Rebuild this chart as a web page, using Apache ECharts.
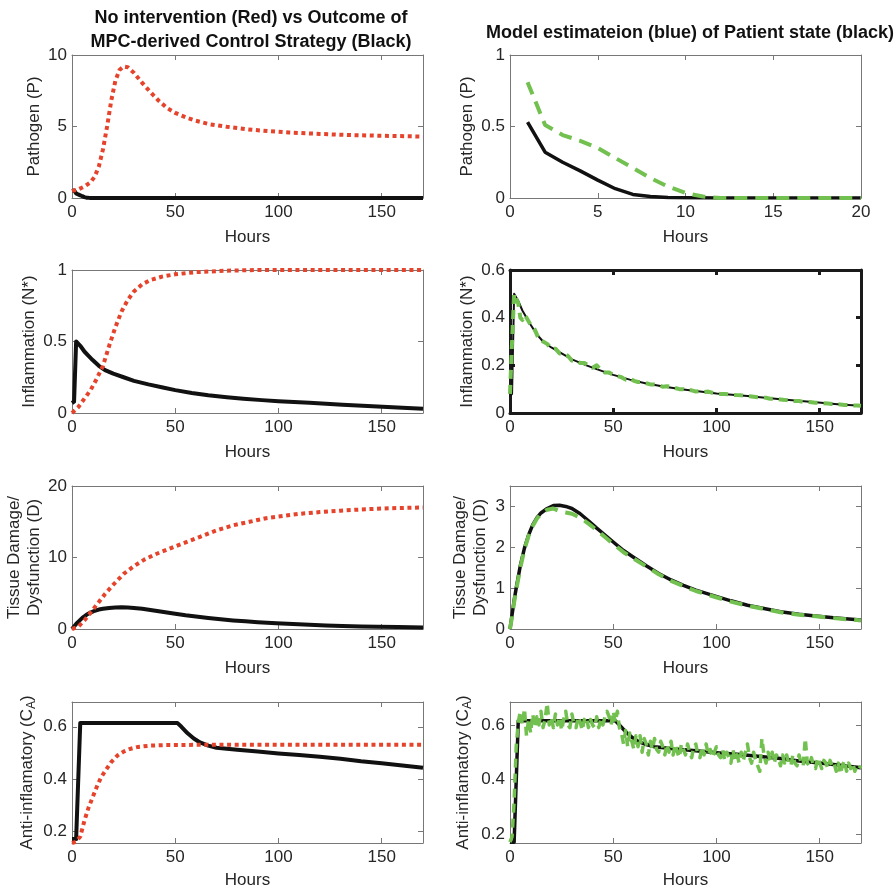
<!DOCTYPE html>
<html><head><meta charset="utf-8">
<script src="https://cdn.jsdelivr.net/npm/echarts@6/dist/echarts.min.js"></script>
<style>html,body{margin:0;padding:0;background:#fff}#c{width:896px;height:891px}</style>
</head><body><div id="c"></div>
<script>
// ---------- DATA ----------
const xTicksLong = [0, 50, 100, 150];
const xTicksShort = [0, 5, 10, 15, 20];

// Pathogen (P)
const pathRedT = [0,3,6,9,11,13,15,17,19,21,23,25,27,30,34,38,42,46,50,55,60,67,75,85,95,105,120,135,150,170];
const pathRedV = [0.5,0.6,0.8,1.1,1.5,2.2,3.4,5.0,6.8,8.2,8.95,9.2,9.15,8.75,8.05,7.4,6.8,6.3,5.95,5.65,5.4,5.15,4.98,4.8,4.68,4.58,4.48,4.4,4.35,4.3];
const pathBlackT = [0,1,2,3,4,5,6,7,8,9,10,12,20,170];
const pathBlackV = [0.5,0.53,0.32,0.25,0.19,0.125,0.065,0.025,0.01,0.004,0.002,0,0,0];
const pathGreenT = [1,2,3,4,5,6,7,8,9,10,11,12,13,14,15,16,17,18,19,20];
const pathGreenV = [0.81,0.51,0.44,0.40,0.35,0.28,0.21,0.14,0.08,0.035,0.01,0,0,0,0,0,0,0,0,0];

// Inflammation (N*)
const inflRedT = [0,3,6,9,12,15,18,21,24,27,30,34,38,44,50,60,75,90,170];
const inflRedV = [0,0.04,0.1,0.16,0.24,0.33,0.47,0.6,0.71,0.79,0.85,0.9,0.93,0.955,0.97,0.985,0.995,1,1];
const inflBlackT = [0,1,2,4,6,8,10,13,16,20,25,30,37,44,50,58,66,75,83,92,100,115,131,148,160,170];
const inflBlackV = [0.07,0.08,0.5,0.47,0.43,0.4,0.37,0.33,0.30,0.275,0.25,0.225,0.20,0.178,0.16,0.14,0.124,0.11,0.10,0.09,0.082,0.071,0.058,0.045,0.036,0.03];
const inflGreenT = [0,1,2,3,4,5,6,7,8,10,12,14,16,18,20,22,24,26,28,30,32,34,36,38,40,42,44,46,48,50,52,54,56,58,60,62,64,66,68,70,72,74,76,78,80,82,84,86,88,90,92,94,96,98,100,102,104,106,108,110,112,114,116,118,120,122,124,126,128,130,132,134,136,138,140,142,144,146,148,150,152,154,156,158,160,162,164,166,168,170];
const inflGreenV = [0.08,0.3,0.5,0.48,0.46,0.40,0.39,0.41,0.40,0.37,0.35,0.31,0.30,0.29,0.27,0.27,0.25,0.25,0.24,0.22,0.22,0.21,0.21,0.20,0.19,0.20,0.18,0.17,0.17,0.16,0.155,0.15,0.14,0.145,0.135,0.13,0.13,0.125,0.12,0.12,0.118,0.11,0.112,0.11,0.105,0.10,0.10,0.095,0.095,0.09,0.092,0.088,0.09,0.085,0.082,0.08,0.08,0.078,0.076,0.075,0.074,0.072,0.07,0.068,0.066,0.065,0.064,0.06,0.06,0.058,0.056,0.054,0.052,0.05,0.05,0.047,0.046,0.045,0.043,0.042,0.041,0.04,0.038,0.037,0.036,0.034,0.033,0.032,0.031,0.03];

// Tissue Damage (D)
const dmgRedT = [0,3,6,9,12,16,20,25,30,35,40,46,54,62,70,78,86,94,102,110,120,130,142,155,170];
const dmgRedV = [0,0.3,1.2,2.3,3.4,4.9,6.2,7.7,8.8,9.7,10.4,11.1,12.0,12.9,13.8,14.5,15.0,15.5,15.8,16.1,16.35,16.55,16.75,16.9,17.0];
const dmgT = [0,1,2,3,5,7,9,11,13,15,18,21,24,27,30,34,38,42,46,50,55,60,66,72,78,84,90,99,107,115,123,131,140,148,158,170];
const dmgBlackV = [0,0.35,0.7,1.0,1.55,1.98,2.3,2.55,2.72,2.84,2.95,3.02,3.03,3.0,2.95,2.82,2.65,2.47,2.3,2.13,1.92,1.75,1.55,1.36,1.2,1.07,0.95,0.81,0.69,0.58,0.5,0.42,0.36,0.32,0.27,0.22];
const dmgGreenV = [0,0.3,0.65,0.95,1.5,1.95,2.28,2.52,2.7,2.82,2.92,2.95,2.88,2.85,2.82,2.72,2.58,2.42,2.25,2.08,1.88,1.72,1.53,1.34,1.18,1.05,0.93,0.79,0.67,0.57,0.49,0.41,0.35,0.31,0.26,0.21];

// Anti-inflammatory (C_A)
const antiRedT = [0,2,4,6,8,10,12,14,16,19,22,25,28,32,38,45,60,170];
const antiRedV = [0.155,0.16,0.18,0.24,0.29,0.33,0.37,0.405,0.43,0.465,0.49,0.505,0.515,0.523,0.528,0.53,0.531,0.531];
const antiBlackT = [0,2,4,51,53,56,59,62,66,70,80,90,100,110,120,130,140,150,160,170];
const antiBlackV = [0.17,0.17,0.615,0.615,0.6,0.575,0.555,0.54,0.528,0.52,0.512,0.505,0.498,0.492,0.485,0.478,0.468,0.46,0.452,0.443];
// hourly model estimate, hour 0..170
const antiGreenV = [
0.17,0.19,0.32,0.52,0.61,0.65,0.60,0.66,0.56,0.62,
0.57,0.64,0.59,0.63,0.60,0.65,0.59,0.62,0.68,0.60,
0.63,0.59,0.64,0.60,0.63,0.58,0.62,0.65,0.60,0.59,
0.64,0.60,0.59,0.63,0.61,0.58,0.62,0.63,0.59,0.62,
0.60,0.59,0.63,0.59,0.62,0.60,0.63,0.65,0.63,0.60,
0.65,0.61,0.65,0.59,0.57,0.53,0.58,0.52,0.57,0.54,
0.51,0.56,0.52,0.56,0.50,0.55,0.53,0.49,0.54,0.51,
0.55,0.51,0.50,0.54,0.52,0.49,0.53,0.50,0.54,0.49,
0.53,0.50,0.48,0.53,0.51,0.49,0.53,0.50,0.48,0.52,
0.53,0.49,0.48,0.52,0.49,0.53,0.49,0.51,0.48,0.50,
0.52,0.49,0.48,0.51,0.47,0.50,0.48,0.46,0.51,0.47,
0.49,0.46,0.50,0.47,0.50,0.53,0.48,0.46,0.50,0.47,
0.45,0.43,0.55,0.49,0.46,0.50,0.47,0.50,0.46,0.49,
0.48,0.45,0.49,0.46,0.49,0.46,0.45,0.49,0.46,0.45,
0.49,0.46,0.45,0.55,0.46,0.45,0.48,0.45,0.44,0.48,
0.46,0.44,0.47,0.46,0.44,0.47,0.45,0.46,0.43,0.46,
0.42,0.45,0.47,0.43,0.46,0.44,0.46,0.43,0.45,0.44,0.45];

// ---------- STYLE / LAYOUT ----------
const FONT = '"Liberation Sans", Arial, Helvetica, sans-serif';
const TXT = '#262626';
const FRAME = '#777777';
const RED = '#e5432b';
const GREEN = '#72c04f';
const BLACK = '#111111';

const pairs = (t, v) => t.map((x, i) => [x, v[i]]);
const hourly = (v) => v.map((y, i) => [i, y]);

const panels = [
  {g:{left:72,top:55,width:351,height:143}, x:[0,170], xt:xTicksLong, y:[0,10], yt:[0,5,10], name:'Pathogen (P)', gap:27},
  {g:{left:510,top:55,width:351,height:143}, x:[0,20], xt:xTicksShort, y:[0,1], yt:[0,0.5,1], name:'Pathogen (P)', gap:29},
  {g:{left:72,top:270,width:351,height:143}, x:[0,170], xt:xTicksLong, y:[0,1], yt:[0,0.5,1], name:'Inflammation (N*)', gap:31},
  {g:{left:510,top:270,width:351,height:143}, x:[0,170], xt:xTicksLong, y:[0,0.6], yt:[0,0.2,0.4,0.6], name:'Inflammation (N*)', gap:31, heavy:true},
  {g:{left:72,top:486,width:351,height:143}, x:[0,170], xt:xTicksLong, y:[0,20], yt:[0,10,20], name:'Tissue Damage/\nDysfunction (D)', gap:20},
  {g:{left:510,top:486,width:351,height:143}, x:[0,170], xt:xTicksLong, y:[0,3.5], yt:[0,1,2,3], name:'Tissue Damage/\nDysfunction (D)', gap:20},
  {g:{left:72,top:702,width:351,height:141}, x:[0,170], xt:xTicksLong, y:[0.155,0.695], yt:[0.2,0.4,0.6], name:'Anti-inflamatory (C{s|A})', gap:35},
  {g:{left:510,top:702,width:351,height:141}, x:[0,170], xt:xTicksLong, y:[0.167,0.684], yt:[0.2,0.4,0.6], name:'Anti-inflamatory (C{s|A})', gap:37},
];

const grid = [], xAxis = [], yAxis = [];
panels.forEach((p, i) => {
  grid.push(Object.assign({show:false}, p.g));
  const fc = p.heavy ? '#1a1a1a' : FRAME;
  const fw = p.heavy ? 3 : 1;
  const tickStyle = {color: fc, width: p.heavy ? 3 : 1};
  const lab = {color: TXT, fontSize: 17, fontFamily: FONT, margin: 6};
  const nameStyle = {color: TXT, fontSize: 17, fontFamily: FONT, lineHeight: 20,
    rich: {s: {fontSize: 12, fontFamily: FONT, color: TXT, padding: [9, 0, 0, 0]}}};
  xAxis.push({type:'value', gridIndex:i, position:'bottom', min:p.x[0], max:p.x[1],
    axisLine:{show:true, onZero:false, lineStyle:{color:fc, width:fw}},
    axisTick:{show:true, inside:true, length:5, lineStyle:tickStyle, customValues:p.xt},
    axisLabel:Object.assign({show:true, customValues:p.xt}, lab),
    splitLine:{show:false},
    name:'Hours', nameLocation:'middle', nameGap: i >= 6 ? 29 : 31, nameTextStyle:{color:TXT, fontSize:17, fontFamily:FONT}});
  xAxis.push({type:'value', gridIndex:i, position:'top', min:p.x[0], max:p.x[1],
    axisLine:{show:true, onZero:false, lineStyle:{color:fc, width:fw}},
    axisTick:{show:true, inside:true, length:5, lineStyle:tickStyle, customValues:p.xt},
    axisLabel:{show:false}, splitLine:{show:false}});
  yAxis.push({type:'value', gridIndex:i, position:'left', min:p.y[0], max:p.y[1],
    axisLine:{show:true, onZero:false, lineStyle:{color:fc, width:fw}},
    axisTick:{show:true, inside:true, length:5, lineStyle:tickStyle, customValues:p.yt},
    axisLabel:Object.assign({show:true, customValues:p.yt}, lab, {margin:5}),
    splitLine:{show:false},
    name:p.name, nameLocation:'middle', nameGap:p.gap, nameRotate:90, nameTextStyle:nameStyle});
  yAxis.push({type:'value', gridIndex:i, position:'right', min:p.y[0], max:p.y[1],
    axisLine:{show:true, onZero:false, lineStyle:{color:fc, width:fw}},
    axisTick:{show:true, inside:true, length:5, lineStyle:tickStyle, customValues:p.yt},
    axisLabel:{show:false}, splitLine:{show:false}});
});

function line(i, data, color, width, type, z) {
  return {type:'line', xAxisIndex:2*i, yAxisIndex:2*i, data:data, showSymbol:false, symbol:'none',
    clip:true, silent:true, z:z || 2,
    lineStyle:{color:color, width:width, type:type || 'solid', cap:'butt', join:'round'}};
}
const DOT = [4, 3.6];
const DASH = [13, 8];

const series = [
  line(0, pairs(pathBlackT, pathBlackV), BLACK, 4),
  line(0, pairs(pathRedT, pathRedV), RED, 4, DOT, 3),
  line(2, pairs(inflBlackT, inflBlackV), BLACK, 4),
  line(2, pairs(inflRedT, inflRedV), RED, 4, DOT, 3),
  line(4, pairs(dmgT, dmgBlackV), BLACK, 4),
  line(4, pairs(dmgRedT, dmgRedV), RED, 4, DOT, 3),
  line(6, pairs(antiBlackT, antiBlackV), BLACK, 4),
  line(6, pairs(antiRedT, antiRedV), RED, 4, DOT, 3),
  line(1, pairs(pathBlackT, pathBlackV).filter(d => d[0] >= 1 && d[0] <= 20), BLACK, 3.5),
  line(1, pairs(pathGreenT, pathGreenV), GREEN, 4, DASH, 3),
  line(3, pairs(inflBlackT, inflBlackV), BLACK, 2),
  line(3, pairs(inflGreenT, inflGreenV), GREEN, 4, [9, 6], 3),
  line(5, pairs(dmgT, dmgBlackV), BLACK, 3.5),
  line(5, pairs(dmgT, dmgGreenV), GREEN, 4, DASH, 3),
  line(7, pairs(antiBlackT, antiBlackV), BLACK, 3.5),
  line(7, hourly(antiGreenV), GREEN, 3.5, [9, 6], 3),
];

const chart = echarts.init(document.getElementById('c'), null, {renderer:'canvas'});
chart.setOption({
  animation:false,
  backgroundColor:'#ffffff',
  title:[
    {text:'No intervention (Red) vs Outcome of\nMPC-derived Control Strategy (Black)', left:246, top:1, textAlign:'center',
     textStyle:{fontSize:18, fontWeight:'bold', color:'#111', fontFamily:FONT, lineHeight:24}},
    {text:'Model estimateion (blue) of Patient state (black)', left:481, top:19,
     textStyle:{fontSize:18, fontWeight:'bold', color:'#111', fontFamily:FONT}}
  ],
  grid:grid, xAxis:xAxis, yAxis:yAxis, series:series
});
</script>
</body></html>
